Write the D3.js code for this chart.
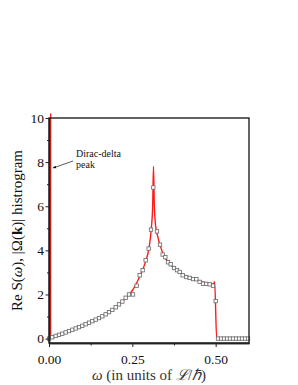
<!DOCTYPE html>
<html>
<head>
<meta charset="utf-8">
<script src="https://cdn.jsdelivr.net/npm/d3@7"></script>
<style>
  body { margin: 0; background: #fff; }
  svg { display: block; }
</style>
</head>
<body>
<script>
// analytic Re S(w), red line
const lineOmega = [0, 0.05, 0.1, 0.15, 0.2, 0.23, 0.25, 0.27, 0.29, 0.3, 0.307, 0.311, 0.3135, 0.316, 0.32, 0.325, 0.333, 0.345, 0.36, 0.38, 0.4, 0.42, 0.44, 0.46, 0.48, 0.493, 0.497, 0.503, 0.6];
const lineValue = [0, 0.28, 0.58, 0.93, 1.42, 1.83, 2.18, 2.75, 3.5, 4.1, 5.0, 6.0, 7.8, 6.0, 5.1, 4.7, 4.25, 3.75, 3.42, 3.13, 2.92, 2.77, 2.67, 2.57, 2.5, 2.47, 2.58, 0, 0];

// Dirac delta at w ~ 0
const deltaOmega = 0.005;
const deltaTop = 10.2;

// |Omega(k)| histogram squares
const histOmega = [0, 0.01, 0.02, 0.03, 0.04, 0.05, 0.06, 0.07, 0.08, 0.09, 0.1, 0.11, 0.12, 0.13, 0.14, 0.15, 0.16, 0.17, 0.18, 0.19, 0.2, 0.21, 0.22, 0.23, 0.24, 0.252, 0.263,
  0.272, 0.281, 0.29, 0.299, 0.306, 0.313, 0.324, 0.333, 0.341, 0.349, 0.357, 0.365, 0.375, 0.384, 0.392, 0.401, 0.412, 0.422, 0.432, 0.442, 0.452, 0.462, 0.472, 0.482, 0.492, 0.5,
  0.507, 0.516, 0.525, 0.534, 0.543, 0.552, 0.561, 0.57, 0.579, 0.588, 0.597];
const histValue = [0, 0.06, 0.12, 0.17, 0.22, 0.28, 0.34, 0.4, 0.46, 0.52, 0.58, 0.65, 0.72, 0.79, 0.86, 0.93, 1.01, 1.1, 1.2, 1.3, 1.42, 1.55, 1.68, 1.85, 2.0, 2.0, 2.4,
  2.87, 3.1, 3.55, 4.08, 4.94, 6.85, 4.86, 4.26, 3.81, 3.69, 3.46, 3.37, 3.2, 3.1, 3.02, 2.87, 2.79, 2.75, 2.7, 2.69, 2.57, 2.49, 2.48, 2.46, 2.4, 1.7,
  0, 0, 0, 0, 0, 0, 0, 0, 0, 0, 0];

const xTicks = [0, 0.25, 0.5];
const xMinor = [0.125, 0.375];
const yTicks = [0, 2, 4, 6, 8, 10];
const yMinor = [1, 3, 5, 7, 9];

const width = 298, height = 385;
const margin = { left: 49, top: 118, right: 49, bottom: 42 };
const w = width - margin.left - margin.right;
const h = height - margin.top - margin.bottom;
const serif = '"Liberation Serif", "Times New Roman", serif';

const svg = d3.select('body').append('svg')
  .attr('width', width)
  .attr('height', height)
  .style('font-family', serif);

const g = svg.append('g').attr('transform', 'translate(' + margin.left + ',' + margin.top + ')');

const x = d3.scaleLinear().domain([0, 0.6]).range([0, w]);
const y = d3.scaleLinear().domain([-0.2, 10]).range([h, 0]);

// red line
const line = d3.line()
  .x(function (d) { return x(d[0]); })
  .y(function (d) { return y(d[1]); })
  .curve(d3.curveMonotoneX);

const lineData = lineOmega.map(function (o, i) { return [o, lineValue[i]]; });
g.append('path')
  .datum(lineData)
  .attr('d', line)
  .attr('fill', 'none')
  .attr('stroke', '#ff1a1a')
  .attr('stroke-width', 1.4);

g.append('line')
  .attr('x1', x(deltaOmega)).attr('x2', x(deltaOmega))
  .attr('y1', y(0)).attr('y2', y(deltaTop))
  .attr('stroke', '#ff1a1a')
  .attr('stroke-width', 1.3);

// histogram squares
const hist = histOmega.map(function (o, i) { return [o, histValue[i]]; });
g.append('g')
  .selectAll('rect')
  .data(hist)
  .enter()
  .append('rect')
  .attr('x', function (d) { return x(d[0]) - 1.7; })
  .attr('y', function (d) { return y(d[1]) - 1.7; })
  .attr('width', 3.4)
  .attr('height', 3.4)
  .attr('fill', '#fff')
  .attr('stroke', '#666')
  .attr('stroke-width', 0.8);

// frame
g.append('rect')
  .attr('width', w).attr('height', h)
  .attr('fill', 'none')
  .attr('stroke', '#111')
  .attr('stroke-width', 1.3);

// axes
const xAxis = g.append('g')
  .attr('transform', 'translate(0,' + h + ')')
  .call(d3.axisBottom(x).tickValues(xTicks).tickFormat(d3.format('.2f')).tickSize(4).tickSizeOuter(0));
const xAxisMinor = g.append('g')
  .attr('transform', 'translate(0,' + h + ')')
  .call(d3.axisBottom(x).tickValues(xMinor).tickFormat('').tickSize(2.5).tickSizeOuter(0));
const yAxis = g.append('g')
  .call(d3.axisLeft(y).tickValues(yTicks).tickFormat(d3.format('d')).tickSize(3.5).tickSizeOuter(0));
const yAxisMinor = g.append('g')
  .call(d3.axisLeft(y).tickValues(yMinor).tickFormat('').tickSize(2).tickSizeOuter(0));

[xAxis, xAxisMinor, yAxis, yAxisMinor].forEach(function (a) {
  a.attr('font-family', serif);
  a.select('.domain').attr('stroke', '#222').attr('stroke-width', 1.3);
  a.selectAll('.tick line').attr('stroke', '#222').attr('stroke-width', 1);
  a.selectAll('text')
    .style('font-family', serif)
    .style('font-size', '13.5px')
    .attr('fill', '#111');
});
xAxis.selectAll('text').attr('dy', '1.0em');
yAxis.selectAll('text').attr('x', -5);

// annotation
const note = g.append('text')
  .attr('font-size', 10)
  .attr('fill', '#111');
note.append('tspan').attr('x', 27).attr('y', 39).text('Dirac-delta');
note.append('tspan').attr('x', 27).attr('y', 50).text('peak');

svg.append('defs').append('marker')
  .attr('id', 'arr')
  .attr('viewBox', '0 0 10 10')
  .attr('refX', 9).attr('refY', 5)
  .attr('markerWidth', 5).attr('markerHeight', 5)
  .attr('orient', 'auto')
  .append('path')
  .attr('d', 'M0,1 L10,5 L0,9 Z')
  .attr('fill', '#111');

g.append('line')
  .attr('x1', 24).attr('y1', 43)
  .attr('x2', 4).attr('y2', 50)
  .attr('stroke', '#111')
  .attr('stroke-width', 0.7)
  .attr('marker-end', 'url(#arr)');

// axis titles
const xt = svg.append('text')
  .attr('x', margin.left + w / 2)
  .attr('y', 380)
  .attr('text-anchor', 'middle')
  .attr('font-size', 15)
  .attr('fill', '#333');
xt.append('tspan').attr('font-style', 'italic').text('ω');
xt.append('tspan').text(' (in units of ');
xt.append('tspan').attr('font-style', 'italic').text('ℒ');
xt.append('tspan').text('/');
xt.append('tspan').attr('font-style', 'italic').text('ℏ');
xt.append('tspan').text(')');

const yt = svg.append('text')
  .attr('transform', 'translate(22,' + (margin.top + h / 2) + ') rotate(-90)')
  .attr('text-anchor', 'middle')
  .attr('font-size', 15)
  .attr('fill', '#111');
yt.append('tspan').text('Re S(');
yt.append('tspan').attr('font-style', 'italic').text('ω');
yt.append('tspan').text('), |Ω(');
yt.append('tspan').attr('font-weight', 'bold').text('k');
yt.append('tspan').text(')| histrogram');
</script>
</body>
</html>
